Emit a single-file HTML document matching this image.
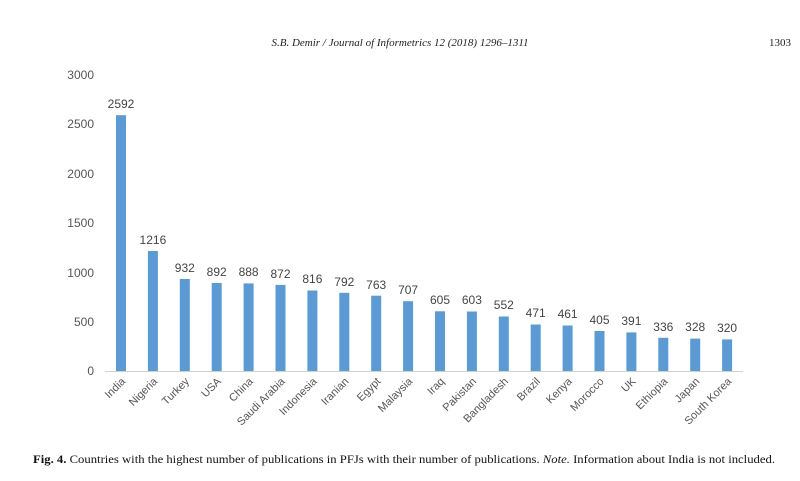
<!DOCTYPE html>
<html><head><meta charset="utf-8"><style>
html,body{margin:0;padding:0;background:#fff;}
</style></head><body>
<svg width="800" height="476" xmlns="http://www.w3.org/2000/svg" font-family="Liberation Sans, sans-serif">
<text x="400" y="46" text-anchor="middle" font-family="Liberation Serif, serif" font-style="italic" font-size="11" fill="#222">S.B. Demir / Journal of Informetrics 12 (2018) 1296–1311</text>
<text x="791" y="46" text-anchor="end" font-family="Liberation Serif, serif" font-size="11" fill="#222">1303</text>
<g font-size="12" fill="#555" text-anchor="end">
<text x="94" y="79">3000</text><text x="94" y="128">2500</text><text x="94" y="178">2000</text><text x="94" y="227">1500</text><text x="94" y="277">1000</text><text x="94" y="326">500</text><text x="94" y="375">0</text>
</g>
<line x1="105" y1="371.5" x2="743" y2="371.5" stroke="#d0d0d0" stroke-width="1"/>
<g fill="#5b9bd5">
<rect x="116" y="115.2" width="10" height="255.8"/>
<rect x="147.9" y="251" width="10" height="120"/>
<rect x="179.8" y="279" width="10" height="92"/>
<rect x="211.7" y="283" width="10" height="88"/>
<rect x="243.6" y="283.4" width="10" height="87.6"/>
<rect x="275.5" y="284.9" width="10" height="86.1"/>
<rect x="307.4" y="290.5" width="10" height="80.5"/>
<rect x="339.3" y="292.8" width="10" height="78.2"/>
<rect x="371.2" y="295.7" width="10" height="75.3"/>
<rect x="403.1" y="301.2" width="10" height="69.8"/>
<rect x="435" y="311.3" width="10" height="59.7"/>
<rect x="466.9" y="311.5" width="10" height="59.5"/>
<rect x="498.8" y="316.5" width="10" height="54.5"/>
<rect x="530.7" y="324.5" width="10" height="46.5"/>
<rect x="562.6" y="325.5" width="10" height="45.5"/>
<rect x="594.5" y="331" width="10" height="40"/>
<rect x="626.4" y="332.4" width="10" height="38.6"/>
<rect x="658.3" y="337.8" width="10" height="33.2"/>
<rect x="690.2" y="338.6" width="10" height="32.4"/>
<rect x="722.1" y="339.4" width="10" height="31.6"/>
</g>
<g font-size="12" fill="#444" text-anchor="middle">
<text x="121" y="108">2592</text>
<text x="152.9" y="244">1216</text>
<text x="184.8" y="272">932</text>
<text x="216.7" y="276">892</text>
<text x="248.6" y="276">888</text>
<text x="280.5" y="278">872</text>
<text x="312.4" y="283">816</text>
<text x="344.3" y="286">792</text>
<text x="376.2" y="289">763</text>
<text x="408.1" y="294">707</text>
<text x="440" y="304">605</text>
<text x="471.9" y="304">603</text>
<text x="503.8" y="309">552</text>
<text x="535.7" y="317">471</text>
<text x="567.6" y="318">461</text>
<text x="599.5" y="324">405</text>
<text x="631.4" y="325">391</text>
<text x="663.3" y="331">336</text>
<text x="695.2" y="331">328</text>
<text x="727.1" y="332">320</text>
</g>
<g font-size="11" fill="#555" text-anchor="end">
<text transform="translate(126,382) rotate(-45)">India</text>
<text transform="translate(157.9,382) rotate(-45)">Nigeria</text>
<text transform="translate(189.8,382) rotate(-45)">Turkey</text>
<text transform="translate(221.7,382) rotate(-45)">USA</text>
<text transform="translate(253.6,382) rotate(-45)">China</text>
<text transform="translate(285.5,382) rotate(-45)">Saudi Arabia</text>
<text transform="translate(317.4,382) rotate(-45)">Indonesia</text>
<text transform="translate(349.3,382) rotate(-45)">Iranian</text>
<text transform="translate(381.2,382) rotate(-45)">Egypt</text>
<text transform="translate(413.1,382) rotate(-45)">Malaysia</text>
<text transform="translate(445,382) rotate(-45)">Iraq</text>
<text transform="translate(476.9,382) rotate(-45)">Pakistan</text>
<text transform="translate(508.8,382) rotate(-45)">Bangladesh</text>
<text transform="translate(540.7,382) rotate(-45)">Brazil</text>
<text transform="translate(572.6,382) rotate(-45)">Kenya</text>
<text transform="translate(604.5,382) rotate(-45)">Morocco</text>
<text transform="translate(636.4,382) rotate(-45)">UK</text>
<text transform="translate(668.3,382) rotate(-45)">Ethiopia</text>
<text transform="translate(700.2,382) rotate(-45)">Japan</text>
<text transform="translate(732.1,382) rotate(-45)">South Korea</text>
</g>
<text x="33" y="463" font-family="Liberation Serif, serif" font-size="11.5" fill="#111" textLength="742" lengthAdjust="spacingAndGlyphs"><tspan font-weight="bold">Fig. 4.</tspan>  Countries with the highest number of publications in PFJs with their number of publications.     <tspan font-style="italic">Note.</tspan> Information about India is not included.</text>
</svg>
</body></html>
